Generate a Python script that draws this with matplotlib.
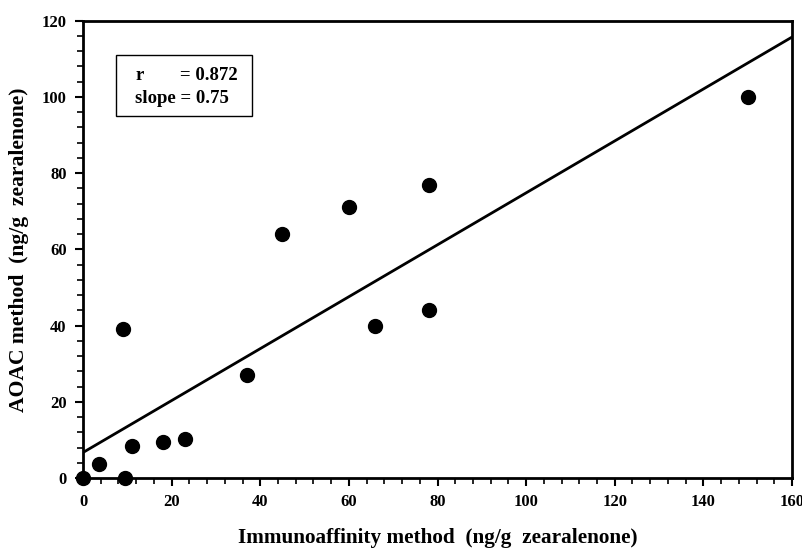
import matplotlib
matplotlib.use("Agg")
import matplotlib.pyplot as plt
from matplotlib.patches import Rectangle
import numpy as np

immuno = [0, 3.5, 9.5, 9, 11, 18, 23, 37, 45, 60, 66, 78, 78, 150]
aoac   = [0, 3.8, 0, 39, 8.5, 9.5, 10.2, 27, 64, 71, 40, 77, 44, 100]
fit_x = [0, 160]
fit_y = [6.7, 115.7]
x_ticks = [0, 20, 40, 60, 80, 100, 120, 140, 160]
y_ticks = [0, 20, 40, 60, 80, 100, 120]
r_value = "0.872"
slope_value = "0.75"

plt.rcParams['font.family'] = ['Liberation Serif', 'DejaVu Serif']
plt.rcParams['font.weight'] = 'bold'

fig = plt.figure(figsize=(8.03, 5.49), dpi=100)
ax = fig.add_axes([0.1034, 0.1293, 0.8829, 0.833])

ax.plot(fit_x, fit_y, color='black', lw=2, zorder=2)
ax.plot(immuno, aoac, 'o', color='black', markersize=10, zorder=3, clip_on=False)

ax.set_xlim(0, 160)
ax.set_ylim(0, 120)
ax.set_xticks(x_ticks)
ax.set_yticks(y_ticks)
ax.set_xticks(np.arange(0, 161, 4), minor=True)
ax.set_yticks(np.arange(0, 121, 4), minor=True)
ax.tick_params(which='major', length=5.8, width=1.5, direction='out', labelsize=12, pad=6)
ax.tick_params(which='minor', length=4, width=1.2, direction='out')
for lab in ax.get_xticklabels() + ax.get_yticklabels():
    lab.set_fontweight('bold')
for s in ax.spines.values():
    s.set_linewidth(2)

ax.set_xlabel('Immunoaffinity method  (ng/g  zearalenone)', fontsize=15.3, fontweight='bold', labelpad=13)
ax.set_ylabel('AOAC method  (ng/g  zearalenone)', fontsize=15.6, fontweight='bold', labelpad=9)

ax.add_patch(Rectangle((0.0465, 0.7916), 0.1919, 0.1334, transform=ax.transAxes,
                       facecolor='white', edgecolor='black', lw=1, zorder=4))
ax.text(0.0733, 0.881, 'r', transform=ax.transAxes, fontsize=13.5, fontweight='bold',
        ha='left', va='center', zorder=5)
ax.text(0.1368, 0.881, '= ' + r_value, transform=ax.transAxes, fontsize=13.5, fontweight='bold',
        ha='left', va='center', zorder=5)
ax.text(0.0733, 0.829, 'slope = ' + slope_value, transform=ax.transAxes, fontsize=13.5,
        fontweight='bold', ha='left', va='center', zorder=5)

fig.savefig('out.png', dpi=100)
